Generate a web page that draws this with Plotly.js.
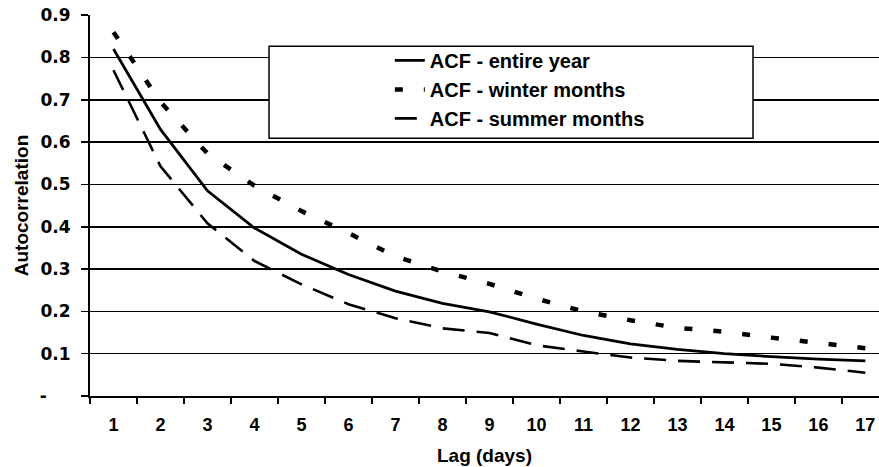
<!DOCTYPE html>
<html>
<head>
<meta charset="utf-8">
<script src="https://cdn.plot.ly/plotly-3.0.1.min.js"></script>
<style>html,body{margin:0;padding:0;background:#fff;}</style>
</head>
<body>
<div id="chart" style="width:879px;height:467px;"></div>
<script>
var lags = ["1","2","3","4","5","6","7","8","9","10","11","12","13","14","15","16","17"];
var acfEntire = [0.82, 0.63, 0.485, 0.397, 0.335, 0.287, 0.248, 0.219, 0.199, 0.17, 0.143, 0.123, 0.11, 0.1, 0.093, 0.087, 0.083];
var acfWinter = [0.86, 0.695, 0.573, 0.497, 0.437, 0.385, 0.33, 0.294, 0.265, 0.23, 0.2, 0.179, 0.161, 0.152, 0.138, 0.125, 0.113];
var acfSummer = [0.77, 0.543, 0.408, 0.319, 0.264, 0.217, 0.184, 0.16, 0.149, 0.12, 0.105, 0.091, 0.083, 0.08, 0.076, 0.067, 0.055];
var yTickVals = [0, 0.1, 0.2, 0.3, 0.4, 0.5, 0.6, 0.7, 0.8, 0.9];
var yTickText = ["-\u00a0\u00a0\u00a0\u00a0", "0.1", "0.2", "0.3", "0.4", "0.5", "0.6", "0.7", "0.8", "0.9"];
var seriesNames = ["ACF - entire year", "ACF - winter months", "ACF - summer months"];

var F = "Liberation Sans, Arial, sans-serif";

var traces = [
  {x: lags, y: acfEntire, name: seriesNames[0], mode: "lines", legendgroup: "a",
   line: {color: "#000", width: 2.8, dash: "solid"}},
  {x: lags, y: acfWinter, name: seriesNames[1], mode: "lines", legendgroup: "b",
   line: {color: "#000", width: 4.5, dash: "8px,21px"}},
  {x: lags, y: acfSummer, name: seriesNames[2], mode: "lines", legendgroup: "c",
   line: {color: "#000", width: 2.6, dash: "22px,12px"}}
];

var layout = {
  width: 879, height: 467,
  margin: {l: 90, r: 0, t: 15, b: 71},
  paper_bgcolor: "#fff", plot_bgcolor: "#fff",
  showlegend: true,
  legend: {
    x: 0.38, xanchor: "left", y: 0.932, yanchor: "top",
    bgcolor: "rgba(0,0,0,0)", borderwidth: 0,
    font: {family: F, size: 20, color: "#000", weight: "bold"},
    itemwidth: 30, tracegroupgap: 0
  },
  shapes: [
    {type: "rect", xref: "paper", yref: "paper", x0: 0.2269, x1: 0.8403, y0: 0.6766, y1: 0.918,
     line: {color: "#000", width: 1.5}, fillcolor: "#fff", layer: "above"}
  ],
  xaxis: {
    type: "category",
    range: [-0.5, 16.29],
    tickson: "boundaries",
    ticks: "outside", ticklen: 6, tickwidth: 1.5, tickcolor: "#000",
    showline: true, linecolor: "#000", linewidth: 2,
    showgrid: false, zeroline: false,
    tickfont: {family: F, size: 18, color: "#000", weight: "bold"},
    ticklabelstandoff: 11,
    title: {text: "Lag (days)", font: {family: F, size: 19, color: "#000", weight: "bold"}, standoff: 15}
  },
  yaxis: {
    range: [0, 0.9005],
    tickmode: "array", tickvals: yTickVals, ticktext: yTickText,
    ticks: "outside", ticklen: 7, tickwidth: 1.5, tickcolor: "#000",
    showline: true, linecolor: "#000", linewidth: 2,
    showgrid: true, gridcolor: "#000", gridwidth: 1.5,
    zeroline: false,
    tickfont: {family: "DejaVu Sans, sans-serif", size: 17, color: "#000", weight: "bold"},
    ticklabelstandoff: 7,
    title: {text: "Autocorrelation", font: {family: F, size: 19, color: "#000", weight: "bold"}, standoff: 6}
  }
};

Plotly.newPlot("chart", traces, layout, {displayModeBar: false, staticPlot: true});
</script>
</body>
</html>
